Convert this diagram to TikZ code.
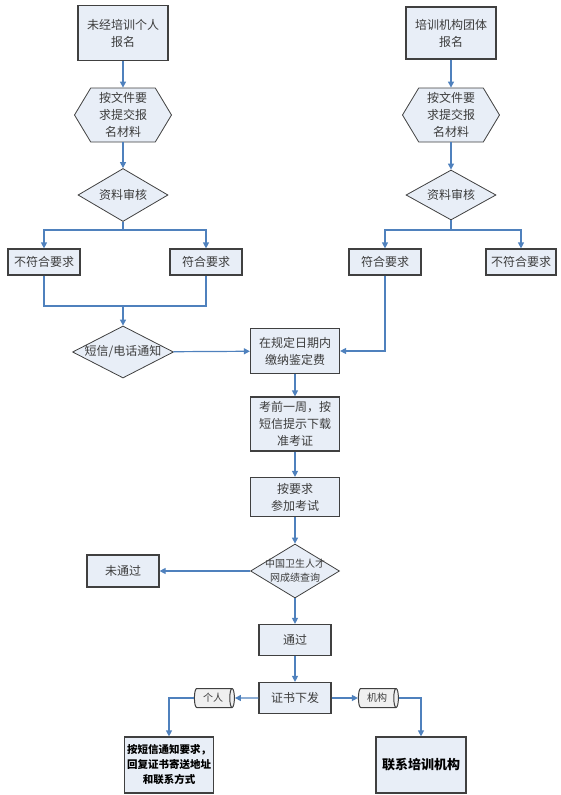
\documentclass[tikz,border=0pt]{standalone}
\usepackage{fontspec}
\usepackage{tikz}
\newfontfamily\cjk{Noto Sans CJK SC}
\usetikzlibrary{arrows.meta,positioning,shapes.geometric,shapes.symbols}
\definecolor{boxfill}{RGB}{232,238,247}
\definecolor{linkblue}{RGB}{79,129,189}
\definecolor{edgegray}{RGB}{64,64,64}
\definecolor{textgray}{RGB}{60,60,60}

\begin{document}
\begin{tikzpicture}[
  x=1pt, y=-1pt,
  box/.style={rectangle, draw=edgegray, line width=1.2pt, fill=boxfill, inner sep=2pt, align=center, font=\cjk\fontsize{12}{17}\selectfont, text=textgray},
  hexa/.style={signal, signal to=west and east, signal pointer angle=118, draw=edgegray, line width=0.8pt, fill=boxfill, minimum width=97pt, minimum height=54pt, inner sep=0pt},
  dia/.style={diamond, draw=edgegray, line width=0.8pt, fill=boxfill, inner sep=0pt},
  tube/.style={cylinder, shape aspect=0.5, draw=edgegray, line width=1pt, fill=gray!12, minimum width=19pt, minimum height=40pt, inner sep=0pt, font=\cjk\fontsize{10}{12}\selectfont, text=textgray},
  lbl/.style={font=\cjk\fontsize{12}{17}\selectfont, text=textgray, align=center},
  arr/.style={-{Triangle[length=6pt, width=6pt]}, line width=1.2pt, linkblue},
  link/.style={line width=1.2pt, linkblue},
]
  \useasboundingbox (0,0) rectangle (561,795);

  % Individual registration
  \node[box, minimum width=90pt, minimum height=55pt] (solo) at (123,33) {未经培训个人\\报名};
  \node[hexa, label={[lbl]center:{按文件要\\求提交报\\名材料}}] (solodoc) at (123,115) {};
  \node[dia, minimum width=90pt, minimum height=53pt, label={[lbl]center:资料审核}] (solochk) at (123,195) {};
  \node[box, minimum width=72pt, minimum height=26pt] (solono) at (44,262) {不符合要求};
  \node[box, minimum width=72pt, minimum height=26pt] (solook) at (206,262) {符合要求};
  \node[dia, minimum width=101pt, minimum height=52pt, label={[lbl]center:短信/电话通知}] (notify) at (123,352) {};

  % Group registration
  \node[box, minimum width=90pt, minimum height=52pt] (group) at (451,33) {培训机构团体\\报名};
  \node[hexa, label={[lbl]center:{按文件要\\求提交报\\名材料}}] (groupdoc) at (451,115) {};
  \node[dia, minimum width=90pt, minimum height=50pt, label={[lbl]center:资料审核}] (groupchk) at (451,195) {};
  \node[box, minimum width=72pt, minimum height=26pt] (groupok) at (385,262) {符合要求};
  \node[box, minimum width=70pt, minimum height=26pt] (groupno) at (521,262) {不符合要求};

  % Exam steps
  \node[box, minimum width=89pt, minimum height=45pt] (pay) at (295,351) {在规定日期内\\缴纳鉴定费};
  \node[box, minimum width=89pt, minimum height=54pt] (ticket) at (295,424) {考前一周，按\\短信提示下载\\准考证};
  \node[box, minimum width=89pt, minimum height=39pt] (exam) at (295,497) {按要求\\参加考试};
  \node[dia, minimum width=89pt, minimum height=54pt, label={[lbl, font=\cjk\fontsize{10}{14}\selectfont]center:{中国卫生人才\\网成绩查询}}] (query) at (295,571) {};
  \node[box, minimum width=72pt, minimum height=32pt] (fail) at (123,571) {未通过};
  \node[box, minimum width=72pt, minimum height=31pt] (pass) at (295,640) {通过};
  \node[box, minimum width=72pt, minimum height=31pt] (cert) at (295,698) {证书下发};

  % Certificate delivery
  \node[tube] (bysolo) at (213,698) {个人};
  \node[tube] (byorg) at (377,698) {机构};
  \node[box, minimum width=89pt, minimum height=56pt, font=\cjk\bfseries\fontsize{10.5}{15}\selectfont, text=black] (reply) at (169,765) {按短信通知要求，\\回复证书寄送地址\\和联系方式};
  \node[box, minimum width=90pt, minimum height=56pt, font=\cjk\bfseries\fontsize{13}{17}\selectfont, text=black] (contact) at (421,765) {联系培训机构};

  \coordinate (solosplit) at (123,230);
  \coordinate (solojoin) at (123,306);
  \coordinate (groupsplit) at (451,230);

  % Left column links
  \draw[arr] (solo) -- (solodoc);
  \draw[arr] (solodoc) -- (solochk);
  \draw[link] (solochk) -- (solosplit);
  \draw[arr] (solosplit) -| (solono);
  \draw[arr] (solosplit) -| (solook);
  \draw[link] (solono) |- (solojoin) -| (solook);
  \draw[arr] (solojoin) -- (notify);
  \draw[arr] (notify) -- (pay);

  % Right column links
  \draw[arr] (group) -- (groupdoc);
  \draw[arr] (groupdoc) -- (groupchk);
  \draw[link] (groupchk) -- (groupsplit);
  \draw[arr] (groupsplit) -| (groupok);
  \draw[arr] (groupsplit) -| (groupno);
  \draw[arr] (groupok) |- (pay);

  % Main line
  \draw[arr] (pay) -- (ticket);
  \draw[arr] (ticket) -- (exam);
  \draw[arr] (exam) -- (query);
  \draw[arr] (query) -- (fail);
  \draw[arr] (query) -- (pass);
  \draw[arr] (pass) -- (cert);
  \draw[arr] (cert) -- (bysolo);
  \draw[arr] (cert) -- (byorg);
  \draw[arr] (bysolo) -| (reply);
  \draw[arr] (byorg) -| (contact);
\end{tikzpicture}
\end{document}
